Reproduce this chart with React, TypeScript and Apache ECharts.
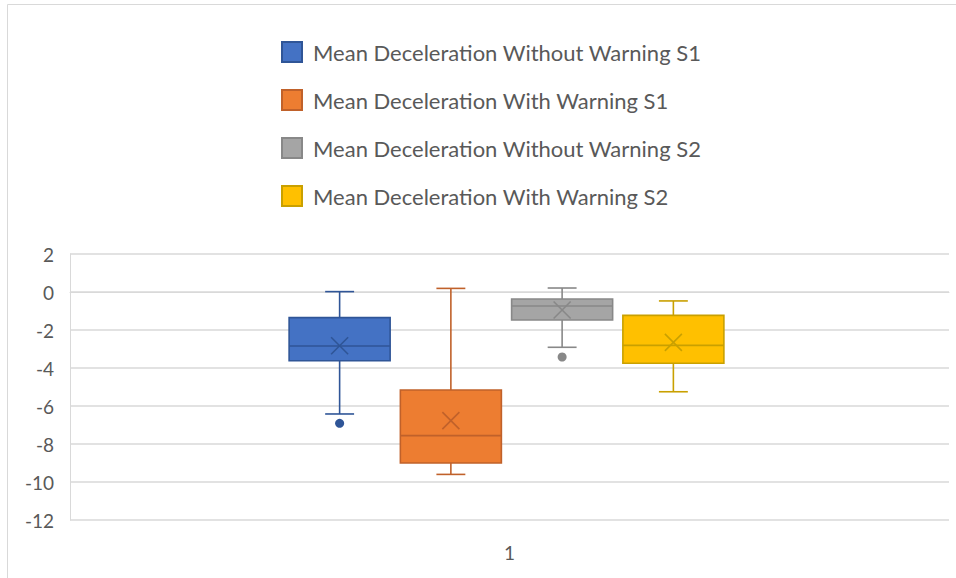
import React, { useEffect, useRef } from "react";
import * as echarts from "echarts";

const categories = ["1"];
const seriesNames = [
  "Mean Deceleration Without Warning S1",
  "Mean Deceleration With Warning S1",
  "Mean Deceleration Without Warning S2",
  "Mean Deceleration With Warning S2",
];
const groupSlots = ["a", "b", "c", "d"];
const minVals = [-6.42, -9.6, -2.91, -5.25];
const q1Vals = [-3.62, -9.0, -1.47, -3.75];
const medianVals = [-2.84, -7.56, -0.74, -2.81];
const q3Vals = [-1.35, -5.16, -0.37, -1.23];
const maxVals = [0.02, 0.19, 0.21, -0.47];
const meanVals = [-2.83, -6.77, -0.95, -2.65];
const outlierVals: number[][] = [[-6.91], [], [-3.42], []];
const fillColors = ["#4472C4", "#ED7D31", "#A5A5A5", "#FFC000"];
const lineColors = ["#2F5597", "#C0612A", "#888888", "#C9A000"];
const yMin = -12;
const yMax = 2;
const yInterval = 2;

const FONT = "Lato, 'Open Sans', sans-serif";

export default function App() {
  const ref = useRef<HTMLDivElement>(null);
  useEffect(() => {
    if (!ref.current) return;
    const chart = echarts.init(ref.current, null, { renderer: "svg" });

    const boxSeries = seriesNames.map((name, i) => ({
      name,
      type: "custom",
      xAxisIndex: 1,
      yAxisIndex: 1,
      itemStyle: { color: fillColors[i], borderColor: lineColors[i], borderWidth: 1 },
      encode: { x: 0, y: [1, 2, 3, 4, 5, 6] },
      data: [[i, minVals[i], q1Vals[i], medianVals[i], q3Vals[i], maxVals[i], meanVals[i]]],
      renderItem: (params: any, api: any) => {
        const x = api.value(0);
        const pMin = api.coord([x, api.value(1)]);
        const pQ1 = api.coord([x, api.value(2)]);
        const pMed = api.coord([x, api.value(3)]);
        const pQ3 = api.coord([x, api.value(4)]);
        const pMax = api.coord([x, api.value(5)]);
        const pMean = api.coord([x, api.value(6)]);
        const band = api.size([1, 0])[0];
        const bw = band * 0.908;
        const cw = band * 0.26;
        const cx = pMed[0];
        const stroke = lineColors[i];
        const ls = { stroke, lineWidth: 1.6 };
        const h = 8.5;
        return {
          type: "group",
          children: [
            { type: "line", shape: { x1: cx, y1: pMax[1], x2: cx, y2: pQ3[1] }, style: ls },
            { type: "line", shape: { x1: cx, y1: pQ1[1], x2: cx, y2: pMin[1] }, style: ls },
            { type: "line", shape: { x1: cx - cw / 2, y1: pMax[1], x2: cx + cw / 2, y2: pMax[1] }, style: ls },
            { type: "line", shape: { x1: cx - cw / 2, y1: pMin[1], x2: cx + cw / 2, y2: pMin[1] }, style: ls },
            {
              type: "rect",
              shape: { x: cx - bw / 2, y: pQ3[1], width: bw, height: pQ1[1] - pQ3[1] },
              style: { fill: fillColors[i], stroke, lineWidth: 1.6 },
            },
            { type: "line", shape: { x1: cx - bw / 2, y1: pMed[1], x2: cx + bw / 2, y2: pMed[1] }, style: ls },
            { type: "line", shape: { x1: cx - h, y1: pMean[1] - h, x2: cx + h, y2: pMean[1] + h }, style: ls },
            { type: "line", shape: { x1: cx - h, y1: pMean[1] + h, x2: cx + h, y2: pMean[1] - h }, style: ls },
          ],
        };
      },
      z: 3,
    }));

    const outlierSeries = outlierVals.map((vals, i) => ({
      name: "outliers " + i,
      type: "scatter",
      xAxisIndex: 1,
      yAxisIndex: 1,
      symbol: "circle",
      symbolSize: 9,
      itemStyle: { color: lineColors[i], opacity: 1 },
      data: vals.map((v) => [i, v]),
      z: 4,
    }));

    chart.setOption({
      animation: false,
      backgroundColor: "#ffffff",
      textStyle: { fontFamily: FONT },
      legend: {
        data: seriesNames,
        orient: "vertical",
        left: 281,
        top: 41,
        padding: 0,
        icon: "rect",
        itemWidth: 20,
        itemHeight: 20,
        itemGap: 26,
        textStyle: { fontSize: 22, color: "#595959", fontFamily: FONT, lineHeight: 22, padding: [0, 0, 0, 6] },
      },
      graphic: [
        { type: "line", shape: { x1: 7.5, y1: 4.5, x2: 956, y2: 4.5 }, style: { stroke: "#d9d9d9", lineWidth: 1 } },
        { type: "line", shape: { x1: 7.5, y1: 4.5, x2: 7.5, y2: 578 }, style: { stroke: "#d9d9d9", lineWidth: 1 } },
      ],
      grid: [
        { left: 70, right: 7, top: 254, bottom: 58, containLabel: false },
        { left: 284, right: 227, top: 254, bottom: 58, containLabel: false },
      ],
      xAxis: [
        {
          type: "category",
          gridIndex: 0,
          data: categories,
          axisTick: { show: false },
          axisLine: { show: true, lineStyle: { color: "#d9d9d9", width: 1 } },
          axisLabel: { fontSize: 19, color: "#595959", margin: 23, fontFamily: FONT },
        },
        {
          type: "category",
          gridIndex: 1,
          data: groupSlots,
          show: false,
        },
      ],
      yAxis: [
        {
          type: "value",
          gridIndex: 0,
          min: yMin,
          max: yMax,
          interval: yInterval,
          axisLine: { show: true, lineStyle: { color: "#d9d9d9", width: 1 } },
          axisTick: { show: false },
          splitLine: { show: true, lineStyle: { color: "#d9d9d9", width: 1.5 } },
          axisLabel: { fontSize: 19, color: "#595959", margin: 16, fontFamily: FONT },
        },
        {
          type: "value",
          gridIndex: 1,
          min: yMin,
          max: yMax,
          interval: yInterval,
          show: false,
          splitLine: { show: false },
        },
      ],
      series: [...boxSeries, ...outlierSeries],
    });
    return () => chart.dispose();
  }, []);
  return <div ref={ref} style={{ position: "fixed", left: 0, top: 0, width: 956, height: 578 }} />;
}
